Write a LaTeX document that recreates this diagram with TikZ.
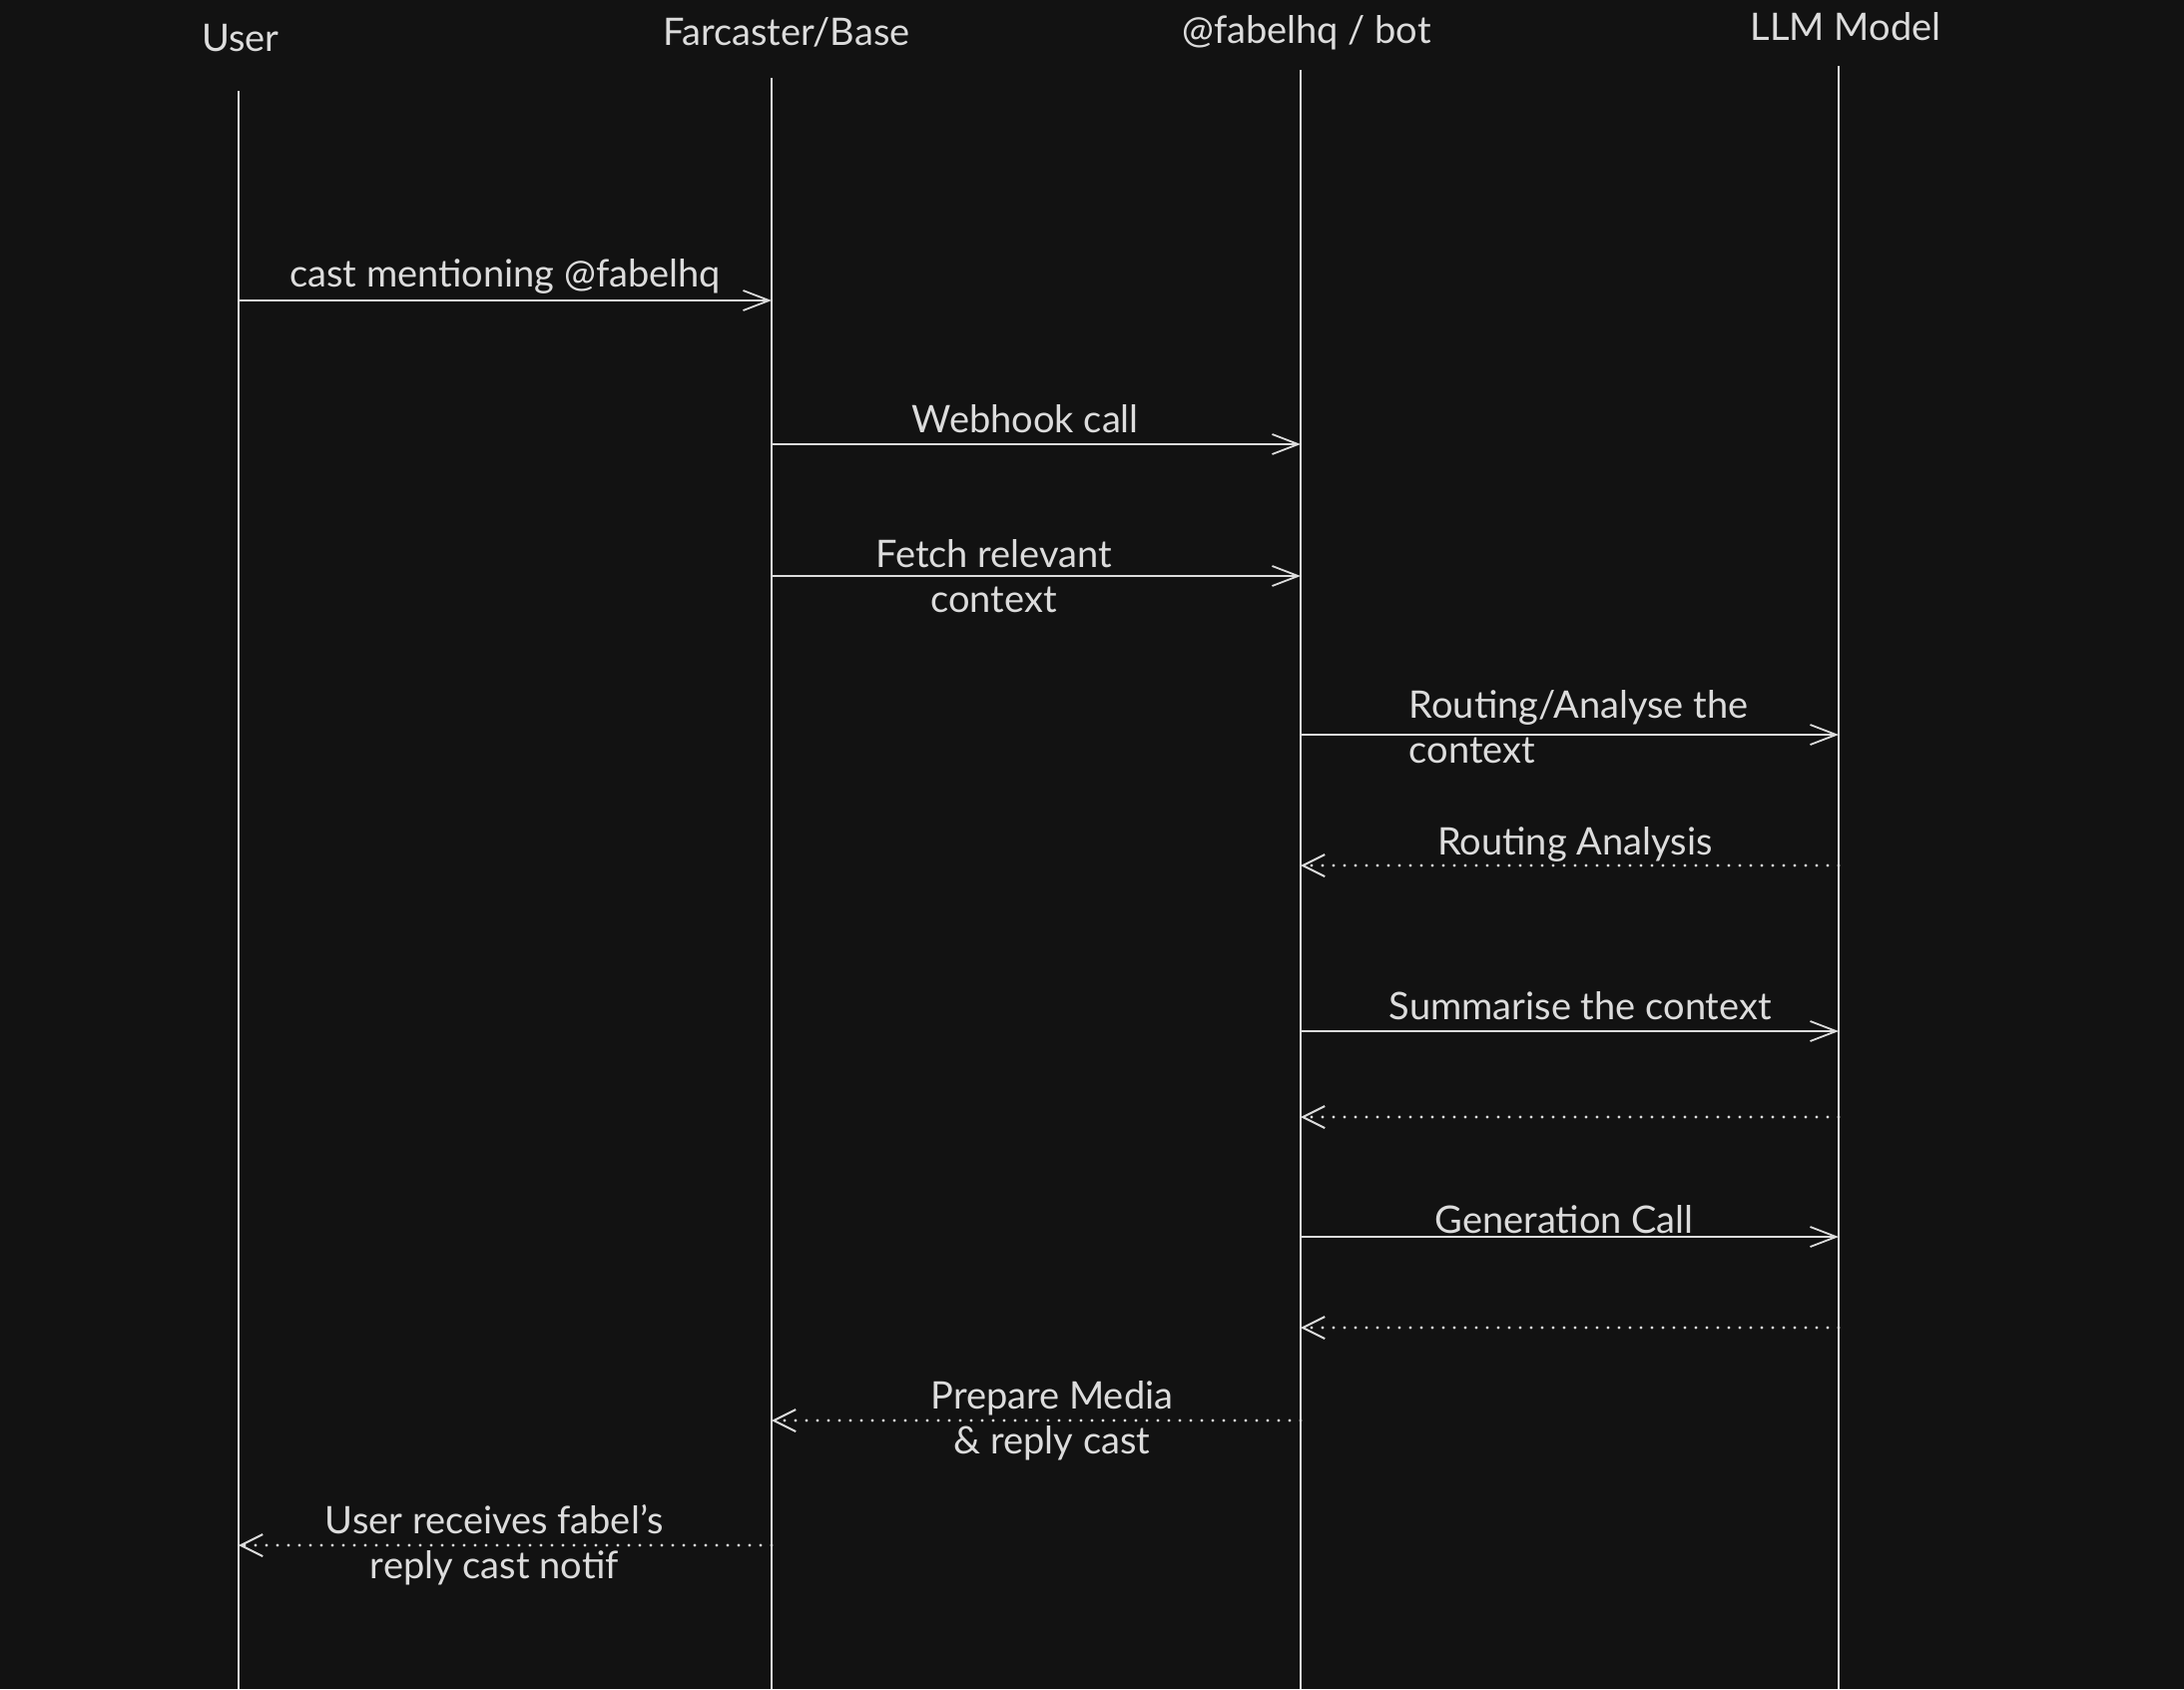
\documentclass[tikz,border=0pt]{standalone}
\usepackage{fontspec}
\setmainfont{Lato}
\usepackage{tikz}
\usetikzlibrary{positioning}
\usetikzlibrary{arrows.meta}
\definecolor{bgdark}{HTML}{121212}
\definecolor{inkgrey}{HTML}{DCDCDC}
\newcommand{\seqfont}{\fontsize{19}{22.5}\selectfont}
\tikzset{actor/.style={text=inkgrey,font=\seqfont,inner sep=0pt},
	lifeline/.style={draw=inkgrey,line width=0.9pt},
	call/.style={draw=inkgrey,line width=0.9pt,-{Straight Barb[length=13pt,width=10pt]}},
	reply/.style={draw=inkgrey,line width=1.6pt,line cap=round,dash pattern=on 0pt off 5.5pt,-{Straight Barb[length=11pt,width=11pt,line width=1pt]}},
	lbl/.style={text=inkgrey,font=\seqfont,inner sep=0pt,align=center},}

\begin{document}
\begin{tikzpicture}[x=0.5pt, y=-0.5pt]
		\fill[bgdark] (0,0) rectangle (2188,1692);
		\useasboundingbox (0,0) rectangle (2188,1692);
		
		% actors
		\node[actor] (user) at (241,38) {User};
		\node[actor] (farc) at (788,32) {Farcaster/Base};
		\node[actor] (bot) at (1309,33) {@fabelhq / bot};
		\node[actor] (llm) at (1849,27) {LLM Model};
		
		% lifelines
		\coordinate (userT) at (239,91);   \coordinate (userB) at (239,1692);
		\coordinate (farcT) at (773,78);   \coordinate (farcB) at (773,1692);
		\coordinate (botT) at (1303,70);   \coordinate (botB) at (1303,1692);
		\coordinate (llmT) at (1842,66);   \coordinate (llmB) at (1842,1692);
		\path[lifeline] (userT) -- (userB) (farcT) -- (farcB) (botT) -- (botB) (llmT) -- (llmB);
		
		% message levels
		\foreach \i/\y in {1/301,2/445,3/577,4/736,5/867,6/1033,7/1119,8/1239,9/1330,10/1423,11/1548}
			\coordinate (m\i) at (0,\y);
		
		\path
		(userT |- m1) edge[call] node[lbl, above=3pt] (t1) {cast mentioning @fabelhq} (farcT |- m1)
		(farcT |- m2) edge[call] node[lbl, above=5pt, pos=0.48] (t2) {Webhook call} (botT |- m2)
		(farcT |- m3) edge[call] node[lbl, pos=0.42] (t3) {Fetch relevant\\context} (botT |- m3)
		(botT |- m4) edge[call] node[lbl, pos=0.2, anchor=west, align=left, yshift=4pt] (t4) {Routing/Analyse the\\context} (llmT |- m4)
		(llmT |- m5) edge[reply] node[lbl, above=1pt, pos=0.49] (t5) {Routing Analysis} (botT |- m5)
		(botT |- m6) edge[call] node[lbl, above=5pt, pos=0.52] (t6) {Summarise the context} (llmT |- m6)
		(llmT |- m7) edge[reply] (botT |- m7)
		(botT |- m8) edge[call] node[lbl, above=1pt, pos=0.49] (t8) {Generation Call} (llmT |- m8)
		(llmT |- m9) edge[reply] (botT |- m9)
		(botT |- m10) edge[reply] node[lbl, pos=0.47] (t10) {Prepare Media\\\& reply cast} (farcT |- m10)
		(farcT |- m11) edge[reply] node[lbl, pos=0.52] (t11) {User receives fabel's\\reply cast notif} (userT |- m11);
	\end{tikzpicture}
\end{document}
